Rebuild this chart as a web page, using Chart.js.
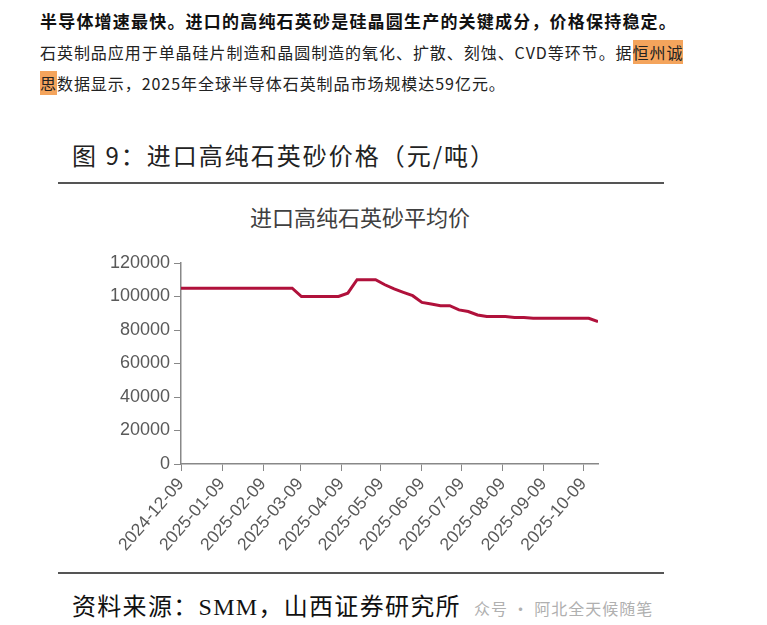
<!DOCTYPE html>
<html>
<head>
<meta charset="utf-8">
<script src="https://cdn.jsdelivr.net/npm/chart.js@4.4.1/dist/chart.umd.min.js"></script>
<style>
    body { margin: 0; background: #fff; width: 767px; height: 625px; position: relative; overflow: hidden; font-family: "Noto Sans CJK SC", sans-serif; }
    .txt { position: absolute; left: 40px; white-space: nowrap; color: #222; }
    #l1 { top: 8px; font-size: 17px; font-weight: bold; letter-spacing: 1.2px; color: #111; }
    #l2 { top: 40px; font-size: 16px; letter-spacing: 0.95px; }
    #l3 { top: 71px; font-size: 16px; letter-spacing: 0.95px; }
    .hl { background: #f4a45c; }
    #fig { position: absolute; left: 72px; top: 137px; font-size: 24px; color: #222; letter-spacing: 2px; }
    .rule { position: absolute; left: 58px; width: 606px; height: 2px; background: #555; }
    #src { position: absolute; left: 72px; top: 587px; font-size: 24px; color: #111; letter-spacing: 1.3px; }
    #src span { font-family: "Liberation Serif", serif; }
    #wm { position: absolute; left: 474px; top: 596px; font-size: 16px; color: #b0b0b0; letter-spacing: 1px; }
    #chartTitle { position: absolute; left: 160px; width: 400px; top: 200px; text-align: center; font-size: 22px; color: #404040; }
    #chartBox { position: absolute; left: 90px; top: 200px; width: 540px; height: 374px; }
</style>
</head>
<body>
<div class="txt" id="l1">半导体增速最快。进口的高纯石英砂是硅晶圆生产的关键成分，价格保持稳定。</div>
<div class="txt" id="l2">石英制品应用于单晶硅片制造和晶圆制造的氧化、扩散、刻蚀、CVD等环节。据<span class="hl">恒州诚</span></div>
<div class="txt" id="l3"><span class="hl">思</span>数据显示，2025年全球半导体石英制品市场规模达59亿元。</div>
<div id="fig">图 9：进口高纯石英砂价格（元/吨）</div>
<div class="rule" style="top:182px"></div>
<div id="chartTitle"></div>
<div id="chartBox"><canvas id="priceChart"></canvas></div>
<div class="rule" style="top:572px"></div>
<div id="src">资料来源：<span>SMM</span>，山西证券研究所</div>
<div id="wm">众号 · 阿北全天候随笔</div>

<script>
// weekly import price of high-purity quartz sand (yuan/ton)
const dates = [
    "2024-12-09", "2025-03-03", "2025-03-10", "2025-04-07", "2025-04-14", "2025-04-21",
    "2025-05-05", "2025-05-12", "2025-05-19", "2025-05-26", "2025-06-02", "2025-06-09",
    "2025-06-16", "2025-06-23", "2025-06-30", "2025-07-07", "2025-07-14", "2025-07-21",
    "2025-07-28", "2025-08-04", "2025-08-11", "2025-08-18", "2025-08-25", "2025-09-01",
    "2025-09-08", "2025-09-15", "2025-09-22", "2025-09-29", "2025-10-06", "2025-10-13",
    "2025-10-20"
];
const prices = [
    105000, 105000, 100000, 100000, 102000, 110000,
    110000, 107000, 104500, 102500, 100500, 96500,
    95500, 94500, 94500, 92000, 91000, 89000,
    88000, 88000, 88000, 87500, 87500, 87000,
    87000, 87000, 87000, 87000, 87000, 87000,
    85000
];
const tickLabels = [
    "2024-12-09", "2025-01-09", "2025-02-09", "2025-03-09", "2025-04-09", "2025-05-09",
    "2025-06-09", "2025-07-09", "2025-08-09", "2025-09-09", "2025-10-09"
];
const chartTitle = "进口高纯石英砂平均价";

document.getElementById("chartTitle").textContent = chartTitle;

function dayOffset(s) {
    return (Date.parse(s) - Date.parse(dates[0])) / 86400000;
}

let points = dates.map((d, i) => ({ x: dayOffset(d), y: prices[i] }));
let tickDays = tickLabels.map(dayOffset);

let ctx = document.getElementById("priceChart").getContext("2d");
new Chart(ctx, {
    type: "line",
    data: {
        datasets: [{
            data: points,
            borderColor: "#b0113b",
            borderWidth: 3,
            pointRadius: 0,
            tension: 0
        }]
    },
    options: {
        responsive: true,
        maintainAspectRatio: false,
        animation: false,
        layout: { padding: { left: 0, right: 32, top: 63, bottom: 0 } },
        plugins: {
            legend: { display: false },
            tooltip: { enabled: false }
        },
        scales: {
            x: {
                type: "linear",
                min: 0,
                max: points[points.length - 1].x,
                afterBuildTicks: function (scale) {
                    scale.ticks = tickDays.map(v => ({ value: v }));
                },
                afterFit: function (scale) {
                    scale.height = 110;
                },
                grid: { drawOnChartArea: false, drawTicks: true, tickLength: 7, color: "#888" },
                border: { display: true, color: "#888", width: 1.5 },
                ticks: {
                    autoSkip: false,
                    minRotation: 49,
                    maxRotation: 49,
                    color: "#595959",
                    font: { family: "Liberation Sans", size: 17.5 },
                    callback: function (value, index) {
                        return tickLabels[index];
                    }
                }
            },
            y: {
                min: 0,
                max: 120000,
                afterFit: function (scale) {
                    scale.width = 91;
                },
                grid: { drawOnChartArea: false, drawTicks: true, tickLength: 7, color: "#888" },
                border: { display: true, color: "#888", width: 1.5 },
                ticks: {
                    stepSize: 20000,
                    padding: 4,
                    color: "#595959",
                    font: { family: "Liberation Sans", size: 18 },
                    callback: function (value) {
                        return String(value);
                    }
                }
            }
        }
    }
});
</script>
</body>
</html>
